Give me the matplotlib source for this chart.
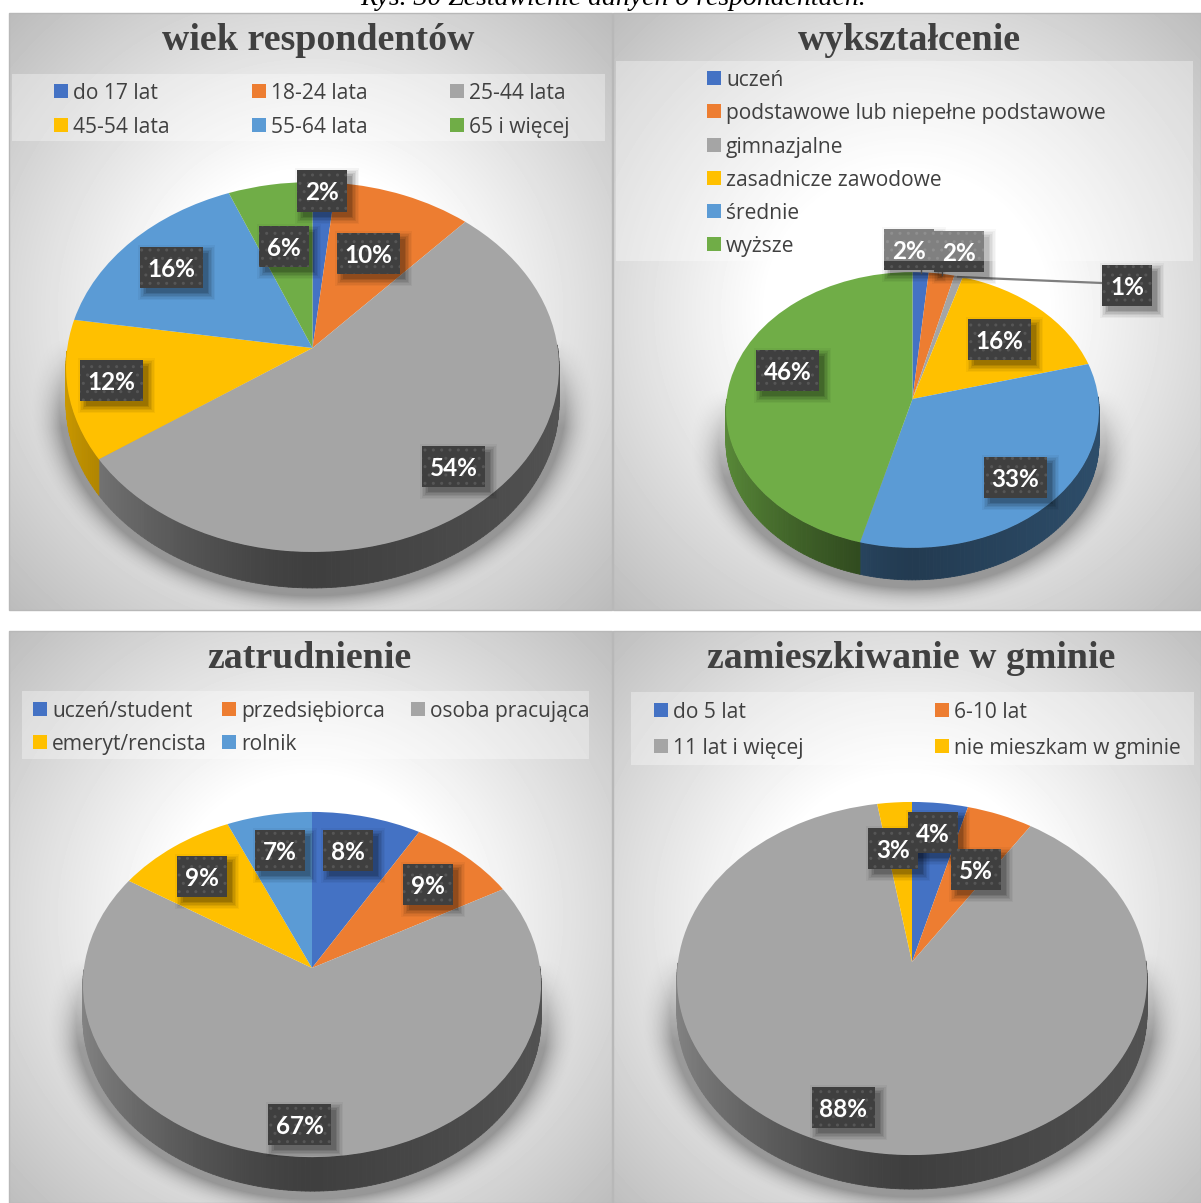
import numpy as np
import matplotlib
matplotlib.use("Agg")
import matplotlib.pyplot as plt
from matplotlib.collections import PolyCollection
from matplotlib.patches import Rectangle
from matplotlib.transforms import Affine2D, Transform

# --- data ---
age_labels = ["do 17 lat", "18-24 lata", "25-44 lata", "45-54 lata", "55-64 lata", "65 i więcej"]
age_values = [1.7, 10, 53.6, 12.2, 16.4, 6.1]

edu_labels = ["uczeń", "podstawowe lub niepełne podstawowe", "gimnazjalne",
              "zasadnicze zawodowe", "średnie", "wyższe"]
edu_values = [1.5, 2.4, 0.8, 16.1, 33.4, 45.8]

job_labels = ["uczeń/student", "przedsiębiorca", "osoba pracująca", "emeryt/rencista", "rolnik"]
job_values = [8.49, 8.51, 67, 9.4, 6.6]

live_labels = ["do 5 lat", "6-10 lat", "11 lat i więcej", "nie mieszkam w gminie"]
live_values = [4.2, 5, 88.2, 2.6]

COLORS = ["#4472c4", "#ed7d31", "#a5a5a5", "#ffc000", "#5b9bd5", "#70ad47"]
W, H = 1201, 1203


# --- tilted pie: a slight perspective on the unit circle ---
class Tilt(Transform):
    input_dims = 2
    output_dims = 2
    is_affine = False
    has_inverse = False

    def __init__(self, k):
        super().__init__()
        self.k = k

    def transform_non_affine(self, values):
        values = np.asarray(values, dtype=float)
        w = 1 + self.k * values[:, 1]
        return np.column_stack([values[:, 0] / w, values[:, 1] / w])


def side_factor(u):
    # dark at the front of the rim, lighter towards the left edge
    return np.where(u < 0, 0.38 + 0.42 * np.abs(u) ** 1.5, 0.38 + 0.12 * u)


def draw_panel_bg(ax, x0, x1, y0, y1, cx, cy):
    xs, ys = np.meshgrid(np.arange(x0, x1) + 0.5, np.arange(y0, y1) + 0.5)
    r = np.hypot(xs - (x0 + x1) / 2, ys - (y0 + y1) / 2)
    g = 255 - 68 * np.clip((r - 140) / 285, 0, 1)
    ax.imshow(g, cmap="gray", vmin=0, vmax=255, extent=(x0, x1, y1, y0),
              aspect="auto", zorder=1, interpolation="bilinear")
    ax.add_patch(Rectangle((x0, y0), x1 - x0, y1 - y0, fc="none", ec="#b8b8b8", lw=1, zorder=1.1))
    return xs, ys


def draw_shadow(ax, xs, ys, extent, cx, cy, rx, ry, apex_y):
    d = np.hypot((xs - cx) / (rx + 8), (ys - cy) / (ry + 8))
    edge = np.clip(1 - (d - 1) * rx / 30, 0, 1) ** 2
    fade = np.clip((ys - apex_y + 10) / 90, 0, 1)
    rgba = np.zeros(xs.shape + (4,))
    rgba[..., 3] = 0.32 * edge * fade
    ax.imshow(rgba, extent=extent, aspect="auto", zorder=1.5, interpolation="bilinear")


def draw_pie(ax, values, cx, apex_y, rx, sy, k, depth):
    wedges, _ = ax.pie(values, colors=COLORS[:len(values)], startangle=90,
                       counterclock=False, frame=True, normalize=True)
    to_plain = Tilt(k) + Affine2D().scale(rx, -sy).translate(cx, apex_y)
    to_px = to_plain + ax.transData
    polys, cols = [], []
    for w, col in zip(wedges, COLORS):
        w.set_transform(to_px)
        w.set_zorder(3)
        base = np.array(matplotlib.colors.to_rgb(col))
        angles = np.arange(w.theta1, w.theta2 + 1, 1.0)
        angles = np.append(angles[angles < w.theta2], w.theta2)
        rad = np.deg2rad(angles)
        pts = to_plain.transform(np.column_stack([np.cos(rad), np.sin(rad)]))
        for a, b, t in zip(pts[:-1], pts[1:], rad[:-1]):
            # the back of the rim is hidden, leave it out so it does not fringe the top
            if np.sin(t) > 0:
                continue
            polys.append([a, b, b + [0, depth], a + [0, depth]])
            cols.append(base * side_factor(np.cos(t)))
    ax.add_collection(PolyCollection(polys, facecolors=cols, edgecolors=cols, linewidths=0.6, zorder=2))


def label_box(ax, text, x0, x1, y0, y1, z=6):
    for grow, alpha in zip([7, 5.5, 4, 2.5, 1, -0.5], [0.04, 0.05, 0.07, 0.08, 0.1, 0.12]):
        ax.add_patch(Rectangle((x0 + 5 - grow, y0 + 5 - grow), x1 - x0 + 2 * grow, y1 - y0 + 2 * grow,
                               fc="black", ec="none", alpha=alpha, zorder=z))
    ax.add_patch(Rectangle((x0, y0), x1 - x0, y1 - y0, fc="#3f3f3f", ec="#565656",
                           hatch="..", lw=0, zorder=z + 0.1))
    ax.text((x0 + x1) / 2, (y0 + y1) / 2, text, color="white", fontsize=17.5, fontweight="bold",
            family="Lato", ha="center", va="center_baseline", zorder=z + 0.2)


def legend_item(ax, x, y, text, col):
    ax.add_patch(Rectangle((x, y - 7), 14, 14, fc=col, ec="none", zorder=8))
    ax.text(x + 19, y, text, color="#404040", fontsize=15.1, family="Open Sans",
            ha="left", va="center_baseline", zorder=8)


def title(ax, x, y, text):
    ax.text(x, y, text, color="#404040", fontsize=27.3, fontweight="bold",
            family="Liberation Serif", ha="center", va="center_baseline", zorder=8)


fig = plt.figure(figsize=(W / 100, H / 100), dpi=100, facecolor="white")
ax = fig.add_axes([0, 0, 1, 1])

# panel: bounds, pie geometry (cx, apex y, rx, sy, k, depth)
panels = [
    ((9, 612, 13, 610), age_values, (312.5, 348, 245.2, 183, 0.1027, 36)),
    ((613, 1201, 13, 610), edu_values, (912.5, 399, 185.9, 137, 0.0797, 32)),
    ((9, 612, 631, 1203), job_values, (312, 968, 228, 171, 0.0957, 34)),
    ((613, 1201, 631, 1203), live_values, (912, 962, 234, 175, 0.0935, 34)),
]
for (x0, x1, y0, y1), vals, (cx, ay, rx, sy, k, depth) in panels:
    xs, ys = draw_panel_bg(ax, x0, x1, y0, y1, cx, ay)
    top = ay - sy / (1 + k)
    bottom = ay + sy / (1 - k)
    draw_shadow(ax, xs, ys, (x0, x1, y1, y0), cx, (top + bottom) / 2 + depth, rx, (bottom - top) / 2, ay)
    draw_pie(ax, vals, cx, ay, rx, sy, k, depth)

# legend bands, the second one lies over the two small labels
for x, y, w, h in [(12, 74, 593, 67), (616, 61, 577, 200), (22, 691, 567, 68), (631, 692, 563, 73)]:
    ax.add_patch(Rectangle((x, y), w, h, fc="white", ec="none", alpha=0.34, zorder=7))

title(ax, 318, 37, "wiek respondentów")
title(ax, 909, 37, "wykształcenie")
title(ax, 309, 655, "zatrudnienie")
title(ax, 911, 655, "zamieszkiwanie w gminie")

# the caption is cut by the top edge in the source picture as well
ax.text(613, 5, "Rys. 30 Zestawienie danych o respondentach.", fontsize=20, style="italic",
        family="Liberation Serif", color="black", ha="center", va="baseline", zorder=9)

for i, (x, y) in enumerate([(54, 91), (252, 91), (450, 91), (54, 125), (252, 125), (450, 125)]):
    legend_item(ax, x, y, age_labels[i], COLORS[i])
for i, y in enumerate([78, 111, 145, 178, 211, 244]):
    legend_item(ax, 707, y, edu_labels[i], COLORS[i])
for i, (x, y) in enumerate([(33, 709), (222, 709), (411, 709), (33, 742), (222, 742)]):
    legend_item(ax, x, y, job_labels[i], COLORS[i])
for i, (x, y) in enumerate([(654, 710), (935, 710), (654, 746), (935, 746)]):
    legend_item(ax, x, y, live_labels[i], COLORS[i])

# data labels
for v, (x0, x1, y0, y1) in zip(age_values, [(297, 347, 170, 212), (337, 400, 233, 274), (422, 485, 446, 487),
                                            (80, 143, 360, 401), (140, 203, 247, 288), (259, 309, 226, 267)]):
    label_box(ax, f"{v:.0f}%", x0, x1, y0, y1)
for v, (x0, x1, y0, y1) in zip(edu_values, [(884, 934, 229, 270), (934, 984, 231, 272), (1102, 1152, 265, 306),
                                            (968, 1031, 319, 360), (984, 1047, 457, 498), (756, 819, 350, 391)]):
    label_box(ax, f"{v:.0f}%", x0, x1, y0, y1, z=4)
for v, (x0, x1, y0, y1) in zip(job_values, [(323, 373, 830, 871), (403, 453, 864, 905), (268, 331, 1104, 1145),
                                            (177, 227, 856, 897), (255, 305, 830, 871)]):
    label_box(ax, f"{v:.0f}%", x0, x1, y0, y1)
for v, (x0, x1, y0, y1) in zip(live_values, [(908, 958, 812, 853), (951, 1001, 849, 890), (812, 875, 1087, 1128),
                                             (868, 918, 828, 869)]):
    label_box(ax, f"{v:.0f}%", x0, x1, y0, y1)

# leader lines
ax.plot([1102, 958], [283, 277], color="#7f7f7f", lw=1.6, zorder=3.5)
ax.plot([921, 921], [270, 273], color="#7f7f7f", lw=1, zorder=3.5)
ax.plot([942, 942], [272, 275], color="#7f7f7f", lw=1, zorder=3.5)

ax.set_xlim(0, W)
ax.set_ylim(H, 0)
ax.set_aspect("auto")
ax.axis("off")
fig.savefig("out.png", dpi=100, facecolor="white")
